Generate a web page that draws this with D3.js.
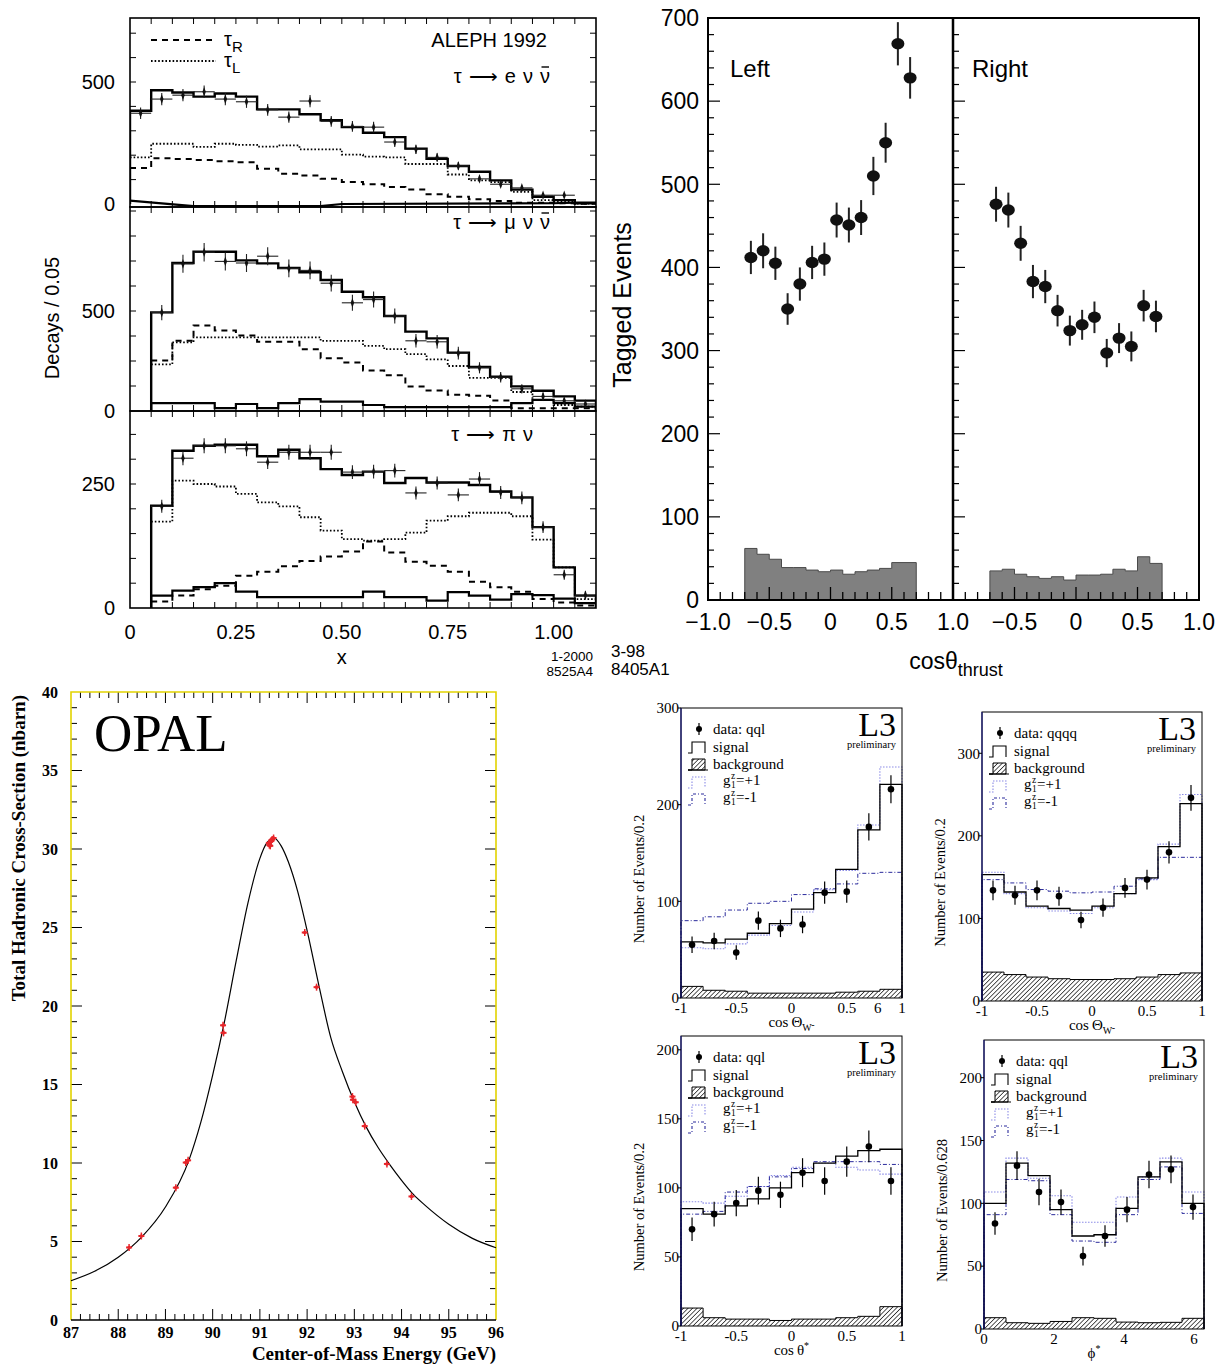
<!DOCTYPE html>
<html><head><meta charset="utf-8">
<script src="https://cdn.jsdelivr.net/npm/d3@7"></script>
<style>body{margin:0;background:#fff}</style>
</head><body>
<script>
// ================= DATA =================
// --- ALEPH (bins of 0.05 in x, 0 .. 1.1) ---
const eTotal=[382,466,457,440,453,440,388,388,368,343,315,292,274,227,185,156,132,97,59,30,16,3];
const eTauL=[191,247,247,234,247,242,235,240,224,224,202,194,191,164,164,121,97,90,50,16,9,2];
const eTauR=[148,187,184,180,175,171,144,124,117,103,90,81,70,59,40,30,19,12,5,5,3,1];
const eBgX=[0,0.15,0.45,0.5,1.0,1.05,1.1];
const eBgY=[14,-9,-9,0,3,6,6];
const eData=[372,430,446,460,430,419,386,356,422,339,318,315,254,224,191,156,103,81,66,36,36];
const eErr=[24,25,25,26,25,25,24,23,25,22,22,22,20,19,17,16,13,11,10,8,8];

const mTotal=[null,493,740,796,796,753,738,715,694,655,596,569,475,397,363,292,220,171,123,101,73,52];
const mTauL=[null,233,343,368,368,368,368,368,368,351,351,326,309,284,258,225,166,166,95,56,30,22];
const mTauR=[null,253,351,427,402,377,346,346,309,264,242,203,179,123,103,81,76,52,14,14,14,14];
const mBg=[null,39,39,39,14,35,14,39,59,47,47,30,19,19,19,19,19,19,39,56,39,22];
const mData=[492,736,794,748,740,774,713,703,639,541,557,475,351,346,289,216,169,111,73,51,35];
const mErr=[38,45,46,45,45,45,44,44,42,40,40,38,34,34,32,28,26,22,18,15,13];

const pTotal=[null,206,317,327,329,329,306,319,302,280,268,275,252,262,253,253,248,235,223,163,82,25];
const pTauL=[null,174,257,250,245,230,213,205,183,156,139,136,139,152,176,185,192,192,185,138,82,18];
const pTauR=[null,13,25,38,45,65,73,84,95,104,114,134,112,93,85,73,53,42,33,18,11,5];
const pBg=[null,25,35,42,50,33,22,22,22,22,22,33,22,22,15,32,25,17,28,26,19,10];
const pData=[205,302,327,327,321,294,314,314,314,274,275,277,232,252,228,260,233,222,163,67,26];
const pErr=[13,14,15,15,15,14,15,15,15,14,14,14,13,13,13,14,13,13,12,10,8];

const alephXTicks=[0,0.25,0.5,0.75,1.0];
const alephXTickLabels=["0","0.25","0.50","0.75","1.00"];

// --- Thrust (Left / Right), bins of 0.1 from -0.7 to 0.7 ---
const leftVals=[412,420,405,350,380,406,410,457,451,460,510,550,669,628];
const leftErr=[20,21,20,19,20,20,20,21,21,21,23,24,26,25];
const leftBg=[62,55,49,39,39,36,34,36,31,34,36,38,45,45];
const rightVals=[476,469,429,383,377,348,324,331,340,297,315,305,354,341];
const rightErr=[21,21,21,20,20,19,18,18,19,17,18,18,19,19];
const rightBg=[35,37,31,28,26,28,24,30,30,31,37,35,52,44];
const thrustYTicks=[0,100,200,300,400,500,600,700];
const thrustLeftXLabels=[[-1,"\u22121.0"],[-0.5,"\u22120.5"],[0,"0"],[0.5,"0.5"],[1,"1.0"]];
const thrustRightXLabels=[[-0.5,"\u22120.5"],[0,"0"],[0.5,"0.5"],[1,"1.0"]];

// --- OPAL ---
const opalCurveE=[87.0,87.5,88.0,88.5,89.0,89.5,89.75,90.0,90.25,90.5,90.75,91.0,91.15,91.3,91.45,91.6,91.8,92.0,92.25,92.5,92.75,93.0,93.25,93.5,93.75,94.0,94.25,94.5,95.0,95.5,96.0];
const opalCurveS=[2.5,3.1,4.0,5.3,7.2,10.2,12.6,15.6,19.0,22.9,26.6,29.4,30.4,30.7,30.2,29.2,27.3,24.8,21.3,18.0,15.8,13.9,12.3,11.0,9.9,8.9,8.0,7.3,6.1,5.2,4.6];
const opalDataE=[88.23,88.49,89.22,89.43,89.48,90.22,90.23,91.19,91.22,91.26,91.29,91.24,91.20,91.95,92.20,92.96,92.97,93.03,93.22,93.69,94.21];
const opalDataS=[4.62,5.35,8.43,10.03,10.17,18.77,18.29,30.39,30.2,30.6,30.7,30.5,30.25,24.68,21.2,14.23,14.03,13.87,12.35,9.94,7.87];
const opalXTicks=[87,88,89,90,91,92,93,94,95,96];
const opalYTicks=[0,5,10,15,20,25,30,35,40];

// --- L3 panels ---
const tlSig=[58,57,61,67,77,92,109,133,174,221];
const tlGp=[52,51,56,65,75,89,112,132,179,239];
const tlGm=[80,84,91,98,100,107,113,118,129,130];
const tlBg=[12,8,7,5,5,5,5,6,7,9];
const tlData=[55,59,47,80,72,76,109,110,177,216];
const tlErr=[8.5,8.5,7.5,9.5,9,9,11.5,11.5,14,14.5];

const trSig=[153,132,115,112,110,115,130,149,187,239];
const trGp=[156,130,113,109,106,113,130,147,190,250];
const trGm=[147,143,135,133,131,132,139,148,174,174];
const trBg=[35,32,29,27,26,26,27,29,32,34];
const trData=[134,128,134,127,98,113,137,147,180,246];
const trErr=[12,11.5,12,11.5,10,11,12,12,13.5,15.5];

const blSig=[85,81,87,92,100,111,118,123,127,128];
const blGp=[90,89,94,101,109,115,118,115,113,110];
const blGm=[81,83,97,101,108,114,119,119,119,117];
const blBg=[13,6,5,5,4,5,5,6,7,14];
const blData=[70,81,89,98,95,111,105,119,130,105];
const blErr=[8.5,9,9.5,10,9.5,10.5,10,11,11.5,10];

const brSig=[100,132,122,95,74,75,96,121,133,100];
const brGp=[109,136,120,106,85,85,105,121,136,109];
const brGm=[91,119,118,91,70,69,91,119,129,92];
const brBg=[9,5,4.5,6,9,8.5,5.5,5,5.3,8.5];
const brData=[84,130,109,101,58,74,95,123,127,97];
const brErr=[9,11.5,10.5,10,7.5,8.5,10,11,11,10];

const cosTicks=[-1,-0.5,0,0.5,1];
const cosTickLabels=["-1","-0.5","0","0.5","1"];
const phiTicks=[0,2,4,6];

// ================= DRAWING =================
const W=1229,H=1365;
const sans="'Liberation Sans', Arial, Helvetica, sans-serif";
const serif="'Liberation Serif','Times New Roman', Times, serif";
const svg=d3.select("body").append("svg").attr("width",W).attr("height",H);
const defs=svg.append("defs");
const pat=defs.append("pattern").attr("id","hatch").attr("patternUnits","userSpaceOnUse")
  .attr("width",3.2).attr("height",3.2).attr("patternTransform","rotate(45)");
pat.append("rect").attr("width",3.2).attr("height",3.2).attr("fill","#fff");
pat.append("line").attr("x1",0).attr("y1",0).attr("x2",0).attr("y2",3.2).attr("stroke","#000").attr("stroke-width",1.3);

function stepSegments(edges, vals, closed){
  const segs=[]; let cur=null;
  vals.forEach((v,i)=>{
    if(v==null){
      if(cur){cur.push([edges[i],cur[cur.length-1][1]]); if(closed)cur.push([edges[i],0]); segs.push(cur); cur=null;}
      return;
    }
    if(!cur){cur=[]; if(closed)cur.push([edges[i],0]);}
    cur.push([edges[i],v]);
  });
  if(cur){const n=vals.length; cur.push([edges[n],cur[cur.length-1][1]]); if(closed)cur.push([edges[n],0]); segs.push(cur);}
  return segs;
}
function drawStep(g,xs,ys,edges,vals,o){
  const line=d3.line().x(d=>xs(d[0])).y(d=>ys(d[1])).curve(d3.curveStepAfter);
  stepSegments(edges,vals,o.closed).forEach(seg=>{
    g.append("path").attr("d",line(seg)).attr("fill",o.fill||"none")
      .attr("stroke",o.stroke||"#000").attr("stroke-width",o.sw||1)
      .attr("stroke-dasharray",o.dash||null).attr("stroke-linejoin","miter");
  });
}

// ---------- ALEPH ----------
(function(){
  const g=svg.append("g").attr("font-family",sans);
  const x=d3.scaleLinear().domain([0,1.1]).range([130,596]);
  const edges=d3.range(23).map(i=>i*0.05);
  const panels=[
    {top:18,bot:207,y:d3.scaleLinear().domain([0,500]).range([204,82]),step:100,labels:[0,500],
     total:eTotal,tauL:eTauL,tauR:eTauR,bg:null,data:eData,err:eErr,x0:0.025},
    {top:207,bot:411,y:d3.scaleLinear().domain([0,500]).range([411,311]),step:125,labels:[0,500],
     total:mTotal,tauL:mTauL,tauR:mTauR,bg:mBg,data:mData,err:mErr,x0:0.075},
    {top:411,bot:608,y:d3.scaleLinear().domain([0,250]).range([608,484]),step:50,labels:[0,250],
     total:pTotal,tauL:pTauL,tauR:pTauR,bg:pBg,data:pData,err:pErr,x0:0.075}
  ];
  panels.forEach((p,pi)=>{
    const cid="clipA"+pi;
    defs.append("clipPath").attr("id",cid).append("rect").attr("x",130).attr("y",p.top).attr("width",466).attr("height",p.bot-p.top);
    const pg=g.append("g").attr("clip-path",`url(#${cid})`);
    drawStep(pg,x,p.y,edges,p.tauR,{sw:2,dash:"6,5"});
    drawStep(pg,x,p.y,edges,p.tauL,{sw:1.8,dash:"1.6,2"});
    if(p.bg) drawStep(pg,x,p.y,edges,p.bg,{sw:2.2,closed:true});
    else {
      pg.append("path").attr("d",d3.line().x(d=>x(d[0])).y(d=>p.y(d[1]))(eBgX.map((v,i)=>[v,eBgY[i]])))
        .attr("fill","none").attr("stroke","#000").attr("stroke-width",2.2);
    }
    drawStep(pg,x,p.y,edges,p.total,{sw:2.4,closed:true});
    p.data.forEach((v,i)=>{
      const cx=p.x0+0.05*i;
      pg.append("line").attr("x1",x(cx-0.025)).attr("x2",x(cx+0.025)).attr("y1",p.y(v)).attr("y2",p.y(v)).attr("stroke","#222").attr("stroke-width",1.1);
      pg.append("line").attr("x1",x(cx)).attr("x2",x(cx)).attr("y1",p.y(v-p.err[i])).attr("y2",p.y(v+p.err[i])).attr("stroke","#222").attr("stroke-width",1.1);
      pg.append("path").attr("d",d3.symbol(d3.symbolDiamond,16)()).attr("transform",`translate(${x(cx)},${p.y(v)}) scale(0.8,1.3)`).attr("fill","#111");
    });
    g.append("rect").attr("x",130).attr("y",p.top).attr("width",466).attr("height",p.bot-p.top).attr("fill","none").attr("stroke","#000").attr("stroke-width",1.6);
    edges.slice(1,-1).forEach(t=>{
      g.append("line").attr("x1",x(t)).attr("x2",x(t)).attr("y1",p.top).attr("y2",p.top+6).attr("stroke","#000").attr("stroke-width",1);
      g.append("line").attr("x1",x(t)).attr("x2",x(t)).attr("y1",p.bot).attr("y2",p.bot-6).attr("stroke","#000").attr("stroke-width",1);
    });
    d3.range(p.step,2000,p.step).forEach(t=>{
      const yy=p.y(t); if(yy<=p.top+2) return;
      g.append("line").attr("x1",130).attr("x2",136).attr("y1",yy).attr("y2",yy).attr("stroke","#000");
      g.append("line").attr("x1",596).attr("x2",590).attr("y1",yy).attr("y2",yy).attr("stroke","#000");
    });
    p.labels.forEach(t=>{
      g.append("text").attr("x",115).attr("y",p.y(t)).attr("dy","0.36em").attr("text-anchor","end").attr("font-size",20).text(t);
    });
  });
  alephXTicks.forEach((t,i)=>{
    g.append("text").attr("x",x(t)).attr("y",639).attr("text-anchor","middle").attr("font-size",20).text(alephXTickLabels[i]);
  });
  g.append("text").attr("x",x(0.5)).attr("y",664).attr("text-anchor","middle").attr("font-size",20).text("x");
  g.append("text").attr("x",593).attr("y",661).attr("text-anchor","end").attr("font-size",13.5).text("1-2000");
  g.append("text").attr("x",593).attr("y",676).attr("text-anchor","end").attr("font-size",13.5).text("8525A4");
  g.append("text").attr("transform","translate(52,318) rotate(-90)").attr("dy","0.35em").attr("text-anchor","middle").attr("font-size",20).text("Decays / 0.05");
  g.append("line").attr("x1",151).attr("x2",216).attr("y1",40).attr("y2",40).attr("stroke","#000").attr("stroke-width",2).attr("stroke-dasharray","6,5");
  g.append("line").attr("x1",151).attr("x2",216).attr("y1",61).attr("y2",61).attr("stroke","#000").attr("stroke-width",1.8).attr("stroke-dasharray","1.6,2");
  const l1=g.append("text").attr("x",224).attr("y",46).attr("font-size",20);
  l1.append("tspan").text("\u03C4"); l1.append("tspan").attr("dy",6).attr("font-size",15).text("R");
  const l2=g.append("text").attr("x",224).attr("y",67).attr("font-size",20);
  l2.append("tspan").text("\u03C4"); l2.append("tspan").attr("dy",6).attr("font-size",15).text("L");
  g.append("text").attr("x",547).attr("y",47).attr("text-anchor","end").attr("font-size",20).text("ALEPH 1992");
  function decay(xr,base,str,bar){
    const t=g.append("text").attr("x",xr).attr("y",base).attr("text-anchor","end").attr("font-size",20).attr("word-spacing",1.5).text(str);
    if(bar){
      const n=str.length; const ext=t.node().getExtentOfChar(n-1);
      g.append("line").attr("x1",ext.x+1.5).attr("x2",ext.x+ext.width-1).attr("y1",base-16).attr("y2",base-16).attr("stroke","#000").attr("stroke-width",1.4);
    }
  }
  decay(550,83,"\u03C4 \u27F6 e \u03BD \u03BD",true);
  decay(550,229,"\u03C4 \u27F6 \u03BC \u03BD \u03BD",true);
  decay(533,441,"\u03C4 \u27F6 \u03C0 \u03BD",false);
})();

// ---------- Thrust ----------
(function(){
  const g=svg.append("g").attr("font-family",sans);
  const y=d3.scaleLinear().domain([0,700]).range([600,18]);
  const xL=d3.scaleLinear().domain([-1,1]).range([708,953]);
  const xR=d3.scaleLinear().domain([-1,1]).range([953,1199]);
  const edges=d3.range(15).map(i=>-0.7+0.1*i);
  const centers=d3.range(14).map(i=>-0.65+0.1*i);
  const subs=[{x:xL,vals:leftVals,err:leftErr,bg:leftBg,label:"Left",lx:730},
              {x:xR,vals:rightVals,err:rightErr,bg:rightBg,label:"Right",lx:972}];
  subs.forEach(s=>{
    drawStep(g,s.x,y,edges,s.bg,{closed:true,fill:"#808080",stroke:"#4a4a4a",sw:1});
    d3.range(1,20).map(i=>-1+0.1*i).forEach(t=>{
      const major=Math.abs(Math.round(t*10))%5===0;
      g.append("line").attr("x1",s.x(t)).attr("x2",s.x(t)).attr("y1",600).attr("y2",600-(major?13:8)).attr("stroke","#000").attr("stroke-width",1.3);
    });
    d3.range(20,700,20).forEach(t=>{
      const major=t%100===0;
      g.append("line").attr("x1",s.x(-1)).attr("x2",s.x(-1)+(major?12:6)).attr("y1",y(t)).attr("y2",y(t)).attr("stroke","#000").attr("stroke-width",1.2);
    });
    s.vals.forEach((v,i)=>{
      g.append("line").attr("x1",s.x(centers[i])).attr("x2",s.x(centers[i])).attr("y1",y(v-s.err[i])).attr("y2",y(v+s.err[i])).attr("stroke","#222").attr("stroke-width",2);
      g.append("ellipse").attr("cx",s.x(centers[i])).attr("cy",y(v)).attr("rx",6.5).attr("ry",5.7).attr("fill","#111");
    });
    g.append("text").attr("x",s.lx).attr("y",77).attr("font-size",24).text(s.label);
  });
  g.append("rect").attr("x",708).attr("y",18).attr("width",491).attr("height",582).attr("fill","none").attr("stroke","#000").attr("stroke-width",2);
  g.append("line").attr("x1",953).attr("x2",953).attr("y1",18).attr("y2",600).attr("stroke","#000").attr("stroke-width",2.5);
  thrustYTicks.forEach(t=>{
    g.append("text").attr("x",699).attr("y",y(t)).attr("dy","0.36em").attr("text-anchor","end").attr("font-size",23).text(t);
  });
  thrustLeftXLabels.forEach(d=>g.append("text").attr("x",xL(d[0])).attr("y",630).attr("text-anchor","middle").attr("font-size",23).text(d[1]));
  thrustRightXLabels.forEach(d=>g.append("text").attr("x",xR(d[0])).attr("y",630).attr("text-anchor","middle").attr("font-size",23).text(d[1]));
  g.append("text").attr("transform","translate(622,305) rotate(-90)").attr("dy","0.35em").attr("text-anchor","middle").attr("font-size",25).text("Tagged Events");
  const xt=g.append("text").attr("x",956).attr("y",669).attr("text-anchor","middle").attr("font-size",23);
  xt.append("tspan").text("cos\u03B8"); xt.append("tspan").attr("dy",7).attr("font-size",18).text("thrust");
  g.append("text").attr("x",611).attr("y",657).attr("font-size",17).text("3-98");
  g.append("text").attr("x",611).attr("y",675).attr("font-size",17).text("8405A1");
})();

// ---------- OPAL ----------
(function(){
  const g=svg.append("g").attr("font-family",serif);
  const x=d3.scaleLinear().domain([87,96]).range([71,496]);
  const y=d3.scaleLinear().domain([0,40]).range([1320,692]);
  const yel="#e2d300";
  d3.range(0,41,1).forEach(t=>{
    if(t===0||t===40) return;
    const L=t%5===0?11:6;
    g.append("line").attr("x1",x(87)).attr("x2",x(87)+L).attr("y1",y(t)).attr("y2",y(t)).attr("stroke","#000");
    g.append("line").attr("x1",x(96)).attr("x2",x(96)-L).attr("y1",y(t)).attr("y2",y(t)).attr("stroke","#000");
  });
  d3.range(1,45).map(i=>87+0.2*i).forEach(t=>{
    const major=Math.abs(t-Math.round(t))<1e-6;
    const L=major?11:6;
    g.append("line").attr("x1",x(t)).attr("x2",x(t)).attr("y1",y(0)).attr("y2",y(0)-L).attr("stroke","#000");
    g.append("line").attr("x1",x(t)).attr("x2",x(t)).attr("y1",y(40)).attr("y2",y(40)+L).attr("stroke","#000");
  });
  g.append("path").attr("d",`M${x(87)},${y(0)}V${y(40)}H${x(96)}V${y(0)}`).attr("fill","none").attr("stroke",yel).attr("stroke-width",1.6);
  g.append("line").attr("x1",x(87)).attr("x2",x(96)).attr("y1",y(0)).attr("y2",y(0)).attr("stroke","#000").attr("stroke-width",1.5);
  g.append("path").attr("d",d3.line().x(d=>x(d[0])).y(d=>y(d[1])).curve(d3.curveMonotoneX)(opalCurveE.map((e,i)=>[e,opalCurveS[i]])))
    .attr("fill","none").attr("stroke","#000").attr("stroke-width",1.2);
  opalDataE.forEach((e,i)=>{
    const cx=x(e), cy=y(opalDataS[i]);
    g.append("line").attr("x1",cx-3).attr("x2",cx+3).attr("y1",cy).attr("y2",cy).attr("stroke","#e8262b").attr("stroke-width",2);
    g.append("line").attr("x1",cx).attr("x2",cx).attr("y1",cy-3.5).attr("y2",cy+3.5).attr("stroke","#e8262b").attr("stroke-width",1.5);
    g.append("circle").attr("cx",cx).attr("cy",cy).attr("r",1.8).attr("fill","#e8262b");
  });
  opalYTicks.forEach(t=>g.append("text").attr("x",58).attr("y",y(t)).attr("dy","0.35em").attr("text-anchor","end").attr("font-size",16).attr("font-weight","bold").text(t));
  opalXTicks.forEach(t=>g.append("text").attr("x",x(t)).attr("y",1338).attr("text-anchor","middle").attr("font-size",16).attr("font-weight","bold").text(t));
  g.append("text").attr("x",496).attr("y",1360).attr("text-anchor","end").attr("font-size",19).attr("font-weight","bold").text("Center-of-Mass Energy (GeV)");
  g.append("text").attr("transform","translate(18,695) rotate(-90)").attr("dy","0.35em").attr("text-anchor","end").attr("font-size",19).attr("font-weight","bold").text("Total Hadronic Cross-Section (nbarn)");
  g.append("text").attr("x",94).attr("y",751).attr("font-size",53).text("OPAL");
})();

// ---------- L3 ----------
(function(){
  const cosEdges=d3.range(11).map(i=>-1+0.2*i);
  const phiEdges=d3.range(11).map(i=>i*2*Math.PI/10);
  const panels=[
    {x0:681,x1:902,y0:708,y1:998,xd:[-1,1],yd:[0,300],yt:[0,100,200,300],edges:cosEdges,xt:cosTicks,xl:cosTickLabels,
     sig:tlSig,gp:tlGp,gm:tlGm,bg:tlBg,data:tlData,err:tlErr,lab:"data: qql",ytitle:"Number of Events/0.2",xtitle:"cosW",extra:true},
    {x0:982,x1:1202,y0:712,y1:1001,xd:[-1,1],yd:[0,350],yt:[0,100,200,300],edges:cosEdges,xt:cosTicks,xl:cosTickLabels,
     sig:trSig,gp:trGp,gm:trGm,bg:trBg,data:trData,err:trErr,lab:"data: qqqq",ytitle:"Number of Events/0.2",xtitle:"cosW"},
    {x0:681,x1:902,y0:1036,y1:1326,xd:[-1,1],yd:[0,210],yt:[0,50,100,150,200],edges:cosEdges,xt:cosTicks,xl:cosTickLabels,
     sig:blSig,gp:blGp,gm:blGm,bg:blBg,data:blData,err:blErr,lab:"data: qql",ytitle:"Number of Events/0.2",xtitle:"costh"},
    {x0:984,x1:1204,y0:1040,y1:1329,xd:[0,2*Math.PI],yd:[0,230],yt:[0,50,100,150,200],edges:phiEdges,xt:phiTicks,xl:phiTicks.map(String),
     sig:brSig,gp:brGp,gm:brGm,bg:brBg,data:brData,err:brErr,lab:"data: qql",ytitle:"Number of Events/0.628",xtitle:"phi"}
  ];
  const lightBlue="#8a8ae6", darkBlue="#2b2b9c";
  panels.forEach((p,pi)=>{
    const g=svg.append("g").attr("font-family",serif);
    const x=d3.scaleLinear().domain(p.xd).range([p.x0,p.x1]);
    const y=d3.scaleLinear().domain(p.yd).range([p.y1,p.y0]);
    drawStep(g,x,y,p.edges,p.bg,{closed:true,fill:"url(#hatch)",stroke:"#000",sw:1});
    drawStep(g,x,y,p.edges,p.gp,{closed:true,stroke:lightBlue,sw:1.1,dash:"1.5,1.5"});
    drawStep(g,x,y,p.edges,p.gm,{closed:true,stroke:darkBlue,sw:1,dash:"4,2,1,2"});
    drawStep(g,x,y,p.edges,p.sig,{closed:true,stroke:"#000",sw:1.3});
    p.data.forEach((v,i)=>{
      const cx=x((p.edges[i]+p.edges[i+1])/2);
      g.append("line").attr("x1",cx).attr("x2",cx).attr("y1",y(v-p.err[i])).attr("y2",y(v+p.err[i])).attr("stroke","#000").attr("stroke-width",1.2);
      g.append("circle").attr("cx",cx).attr("cy",y(v)).attr("r",3.3).attr("fill","#000");
    });
    g.append("rect").attr("x",p.x0).attr("y",p.y0).attr("width",p.x1-p.x0).attr("height",p.y1-p.y0).attr("fill","none").attr("stroke","#000").attr("stroke-width",1);
    g.append("line").attr("x1",p.x0).attr("x2",p.x0).attr("y1",p.y0).attr("y2",p.y1).attr("stroke","#1a1a7a").attr("stroke-width",1.2);
    p.yt.forEach(t=>{
      g.append("line").attr("x1",p.x0-3).attr("x2",p.x0).attr("y1",y(t)).attr("y2",y(t)).attr("stroke","#000");
      g.append("text").attr("x",p.x0-2).attr("y",y(t)).attr("dy","0.35em").attr("text-anchor","end").attr("font-size",15).text(t);
    });
    p.xt.forEach((t,i)=>{
      g.append("text").attr("x",x(t)).attr("y",p.y1+15).attr("text-anchor","middle").attr("font-size",15).text(p.xl[i]);
    });
    if(p.extra) g.append("text").attr("x",x(0.78)).attr("y",p.y1+15).attr("text-anchor","middle").attr("font-size",15).text("6");
    const xc=(p.x0+p.x1)/2;
    const xt=g.append("text").attr("x",xc).attr("y",p.y1+29).attr("text-anchor","middle").attr("font-size",15);
    if(p.xtitle==="cosW"){
      xt.append("tspan").text("cos\u2009\u0398");
      xt.append("tspan").attr("dy",4).attr("font-size",10).text("W");
      xt.append("tspan").attr("dy",-3).attr("font-size",10).text("-");
    } else if(p.xtitle==="costh"){
      xt.append("tspan").text("cos\u2009\u03B8");
      xt.append("tspan").attr("dy",-6).attr("font-size",10).text("*");
    } else {
      xt.append("tspan").text("\u03D5");
      xt.append("tspan").attr("dy",-6).attr("font-size",10).text("*");
    }
    g.append("text").attr("transform",`translate(${p.x0-42},${(p.y0+p.y1)/2+26}) rotate(-90)`).attr("dy","0.35em").attr("text-anchor","middle").attr("font-size",14.5).text(p.ytitle);
    g.append("text").attr("x",p.x1-6).attr("y",p.y0+28).attr("text-anchor","end").attr("font-size",34).text("L3");
    g.append("text").attr("x",p.x1-6).attr("y",p.y0+40).attr("text-anchor","end").attr("font-size",10.5).text("preliminary");
    const lx=p.x0, ly=p.y0;
    g.append("line").attr("x1",lx+18).attr("x2",lx+18).attr("y1",ly+15).attr("y2",ly+27).attr("stroke","#000").attr("stroke-width",1.2);
    g.append("circle").attr("cx",lx+18).attr("cy",ly+21).attr("r",3).attr("fill","#000");
    g.append("text").attr("x",lx+32).attr("y",ly+26).attr("font-size",15).text(p.lab);
    const glyph=(yb,stroke,dash)=>g.append("path").attr("d",`M${lx+7},${yb}H${lx+11}V${yb-11}H${lx+24}V${yb}`).attr("fill","none").attr("stroke",stroke).attr("stroke-width",1.1).attr("stroke-dasharray",dash);
    glyph(ly+45,"#000",null);
    g.append("text").attr("x",lx+32).attr("y",ly+44).attr("font-size",15).text("signal");
    g.append("path").attr("d",`M${lx+7},${ly+62}H${lx+11}V${ly+51}H${lx+24}V${ly+62}Z`).attr("fill","url(#hatch)").attr("stroke","#000").attr("stroke-width",1);
    g.append("line").attr("x1",lx+7).attr("x2",lx+27).attr("y1",ly+62).attr("y2",ly+62).attr("stroke","#000");
    g.append("text").attr("x",lx+32).attr("y",ly+61).attr("font-size",15).text("background");
    glyph(ly+80,lightBlue,"1.5,1.5");
    glyph(ly+97,darkBlue,"3,2,1,2");
    [["+",ly+77],["-",ly+94]].forEach(d=>{
      g.append("text").attr("x",lx+42).attr("y",d[1]).attr("font-size",15).text("g");
      g.append("text").attr("x",lx+50).attr("y",d[1]-6).attr("font-size",9.5).text("z");
      g.append("text").attr("x",lx+50).attr("y",d[1]+3).attr("font-size",9.5).text("1");
      g.append("text").attr("x",lx+55).attr("y",d[1]).attr("font-size",15).text("="+d[0]+"1");
    });
  });
})();
</script>
</body></html>
